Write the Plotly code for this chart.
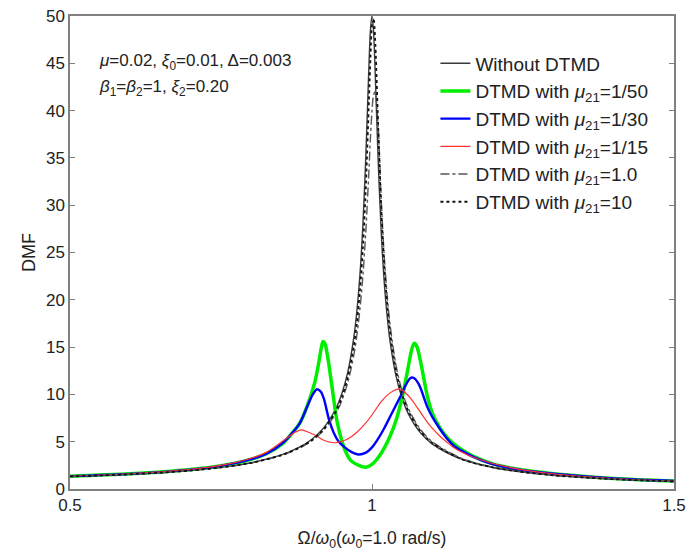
import plotly.graph_objects as go

# ---------------- data ----------------
x_black = [0.5, 0.55, 0.6, 0.65, 0.7, 0.75, 0.8, 0.85, 0.88, 0.9, 0.92, 0.94, 0.95, 0.96,
           0.97, 0.975, 0.98, 0.985, 0.99, 0.995, 0.9975, 1.0, 1.0025, 1.005, 1.01, 1.015,
           1.02, 1.025, 1.03, 1.04, 1.05, 1.06, 1.08, 1.1, 1.15, 1.2, 1.25, 1.3, 1.35,
           1.4, 1.45, 1.5]
y_without = [1.33, 1.43, 1.56, 1.73, 1.96, 2.29, 2.78, 3.60, 4.43, 5.24, 6.46, 8.48, 10.07, 12.39,
             16.08, 18.84, 22.63, 28.0, 35.6, 44.9, 48.6, 50.0, 48.4, 44.5, 35.1, 27.5,
             22.1, 18.31, 15.55, 11.87, 9.56, 7.97, 5.96, 4.74, 3.10, 2.27, 1.78, 1.45, 1.22,
             1.04, 0.91, 0.80]
y_mu1 = [1.33, 1.43, 1.56, 1.72, 1.95, 2.27, 2.75, 3.55, 4.33, 5.08, 6.22, 7.97, 9.34, 11.28,
         14.19, 16.28, 19.0, 22.6, 27.5, 33.8, 37.2, 40.0, 41.6, 42.0, 38.6, 31.0,
         24.9, 20.5, 17.3, 13.0, 10.3, 8.52, 6.31, 4.98, 3.20, 2.32, 1.80, 1.46, 1.23,
         1.05, 0.91, 0.80]
y_mu10 = [1.33, 1.43, 1.56, 1.73, 1.96, 2.28, 2.77, 3.58, 4.40, 5.15, 6.32, 8.22, 9.70, 11.84,
          15.18, 17.6, 20.96, 25.6, 32.3, 41.2, 45.6, 49.1, 49.8, 47.8, 38.8, 30.2,
          24.0, 19.7, 16.56, 12.47, 9.95, 8.25, 6.15, 4.86, 3.14, 2.29, 1.79, 1.45, 1.22,
          1.04, 0.91, 0.80]

x_green = [0.5, 0.6, 0.7, 0.75, 0.8, 0.826, 0.853, 0.869, 0.88, 0.894, 0.905, 0.912, 0.916,
           0.919, 0.922, 0.926, 0.929, 0.934, 0.942, 0.95, 0.956, 0.965, 0.978, 0.99, 1.0,
           1.01, 1.02, 1.03, 1.04, 1.05, 1.06, 1.066, 1.07, 1.074, 1.08, 1.092, 1.1, 1.113,
           1.125, 1.135, 1.15, 1.168, 1.2, 1.25, 1.3, 1.4, 1.5]
y_green = [1.36, 1.60, 2.05, 2.45, 3.15, 3.75, 4.85, 6.0, 6.9, 9.0, 11.2, 13.4, 14.9,
           15.6, 15.4, 14.2, 13.0, 10.7, 7.2, 5.1, 4.0, 3.0, 2.5, 2.3, 2.6,
           3.3, 4.3, 5.6, 7.3, 9.7, 12.9, 14.8, 15.4, 15.1, 13.6, 9.7, 8.0, 6.4,
           5.4, 4.8, 4.1, 3.45, 2.65, 2.0, 1.62, 1.12, 0.85]

x_blue = [0.5, 0.6, 0.7, 0.75, 0.8, 0.826, 0.853, 0.869, 0.88, 0.894, 0.902, 0.909, 0.915,
          0.92, 0.929, 0.937, 0.945, 0.955, 0.965, 0.978, 0.99, 1.0, 1.01, 1.02, 1.032,
          1.04, 1.048, 1.056, 1.064, 1.07, 1.078, 1.092, 1.1, 1.112, 1.124, 1.135, 1.151,
          1.168, 1.2, 1.25, 1.3, 1.4, 1.5]
y_blue = [1.36, 1.60, 2.05, 2.45, 3.15, 3.75, 4.9, 6.0, 6.9, 8.9, 10.0, 10.55, 10.3,
          9.6, 7.3, 5.9, 5.0, 4.4, 3.95, 3.65, 3.85, 4.4, 5.3, 6.4, 7.9,
          8.9, 9.9, 11.0, 11.75, 11.7, 11.0, 8.6, 7.6, 6.4, 5.35, 4.6, 3.95,
          3.4, 2.62, 1.98, 1.61, 1.11, 0.85]

x_red = [0.5, 0.6, 0.7, 0.75, 0.8, 0.826, 0.853, 0.87, 0.883, 0.895, 0.907, 0.92, 0.937,
         0.945, 0.955, 0.965, 0.975, 0.985, 0.995, 1.005, 1.015, 1.025, 1.035, 1.043, 1.05,
         1.055, 1.065, 1.075, 1.09, 1.1, 1.113, 1.125, 1.135, 1.15, 1.168, 1.2, 1.25, 1.3,
         1.4, 1.5]
y_red = [1.36, 1.61, 2.07, 2.5, 3.25, 3.9, 5.1, 5.9, 6.26, 6.0, 5.66, 5.15, 4.89,
         4.96, 5.15, 5.5, 6.0, 6.65, 7.4, 8.3, 9.2, 9.9, 10.35, 10.55, 10.45,
         10.2, 9.5, 8.6, 7.2, 6.4, 5.55, 4.9, 4.4, 3.85, 3.35, 2.7, 2.02, 1.6,
         1.11, 0.84]

x_ticks = [0.5, 1, 1.5]
x_tick_labels = ["0.5", "1", "1.5"]
y_ticks = [0, 5, 10, 15, 20, 25, 30, 35, 40, 45, 50]

names = ["Without DTMD",
         "DTMD with <i>μ</i><sub>21</sub>=1/50",
         "DTMD with <i>μ</i><sub>21</sub>=1/30",
         "DTMD with <i>μ</i><sub>21</sub>=1/15",
         "DTMD with <i>μ</i><sub>21</sub>=1.0",
         "DTMD with <i>μ</i><sub>21</sub>=10"]

# ---------------- figure ----------------
fig = go.Figure()
sm = 0.9
fig.add_trace(go.Scatter(x=x_black, y=y_without, name=names[0], mode="lines",
                         line=dict(color="#3a3a3a", width=1.4, shape="spline", smoothing=sm)))
fig.add_trace(go.Scatter(x=x_green, y=y_green, name=names[1], mode="lines",
                         line=dict(color="#00ee00", width=3.5, shape="spline", smoothing=sm)))
fig.add_trace(go.Scatter(x=x_blue, y=y_blue, name=names[2], mode="lines",
                         line=dict(color="#0000ff", width=2.4, shape="spline", smoothing=sm)))
fig.add_trace(go.Scatter(x=x_red, y=y_red, name=names[3], mode="lines",
                         line=dict(color="#ff3030", width=1.2, shape="spline", smoothing=sm)))
fig.add_trace(go.Scatter(x=x_black, y=y_mu1, name=names[4], mode="lines",
                         line=dict(color="#555555", width=1.4, dash="dashdot", shape="spline", smoothing=sm)))
fig.add_trace(go.Scatter(x=x_black, y=y_mu10, name=names[5], mode="lines",
                         line=dict(color="#111111", width=1.8, dash="dot", shape="spline", smoothing=sm)))

axis_common = dict(showline=True, linecolor="#808080", linewidth=1.5, mirror="ticks",
                   ticks="inside", ticklen=5, tickcolor="#808080", showgrid=False,
                   zeroline=False, automargin=False, ticklabeloverflow="allow",
                   tickfont=dict(size=17, color="#222"))

fig.update_xaxes(range=[0.5, 1.5], tickvals=x_ticks, ticktext=x_tick_labels,
                 title=dict(text="Ω/<i>ω</i><sub>0</sub>(<i>ω</i><sub>0</sub>=1.0 rad/s)",
                            font=dict(size=17.5, color="#222"), standoff=19),
                 **axis_common)
fig.update_yaxes(range=[0, 50], tickvals=y_ticks,
                 title=dict(text="DMF", font=dict(size=18, color="#222"), standoff=6),
                 **axis_common)

fig.add_annotation(xref="paper", yref="paper", x=0.0446, y=0.903, xanchor="left", yanchor="middle",
                   align="left", showarrow=False,
                   text="<i>μ</i>=0.02, <i>ξ</i><sub>0</sub>=0.01, Δ=0.003",
                   font=dict(size=17, color="#222"))
fig.add_annotation(xref="paper", yref="paper", x=0.0446, y=0.848, xanchor="left", yanchor="middle",
                   align="left", showarrow=False,
                   text="<i>β</i><sub>1</sub>=<i>β</i><sub>2</sub>=1, <i>ξ</i><sub>2</sub>=0.20",
                   font=dict(size=17, color="#222"))

# the page body adds an 8 px margin on every side; the figure is sized so the page
# does not overflow the 695x559 window, and margins place the plot box as in the reference
fig.update_layout(
    width=679, height=543,
    margin=dict(l=62, r=13, t=8, b=62),
    paper_bgcolor="white", plot_bgcolor="white",
    font=dict(family="Liberation Sans, Arial, sans-serif", color="#222"),
    legend=dict(x=0.605, y=0.94, xanchor="left", yanchor="top", bgcolor="rgba(0,0,0,0)",
                font=dict(size=19, color="#222"), tracegroupgap=0),
    showlegend=True,
)

fig.write_html("out.html")
